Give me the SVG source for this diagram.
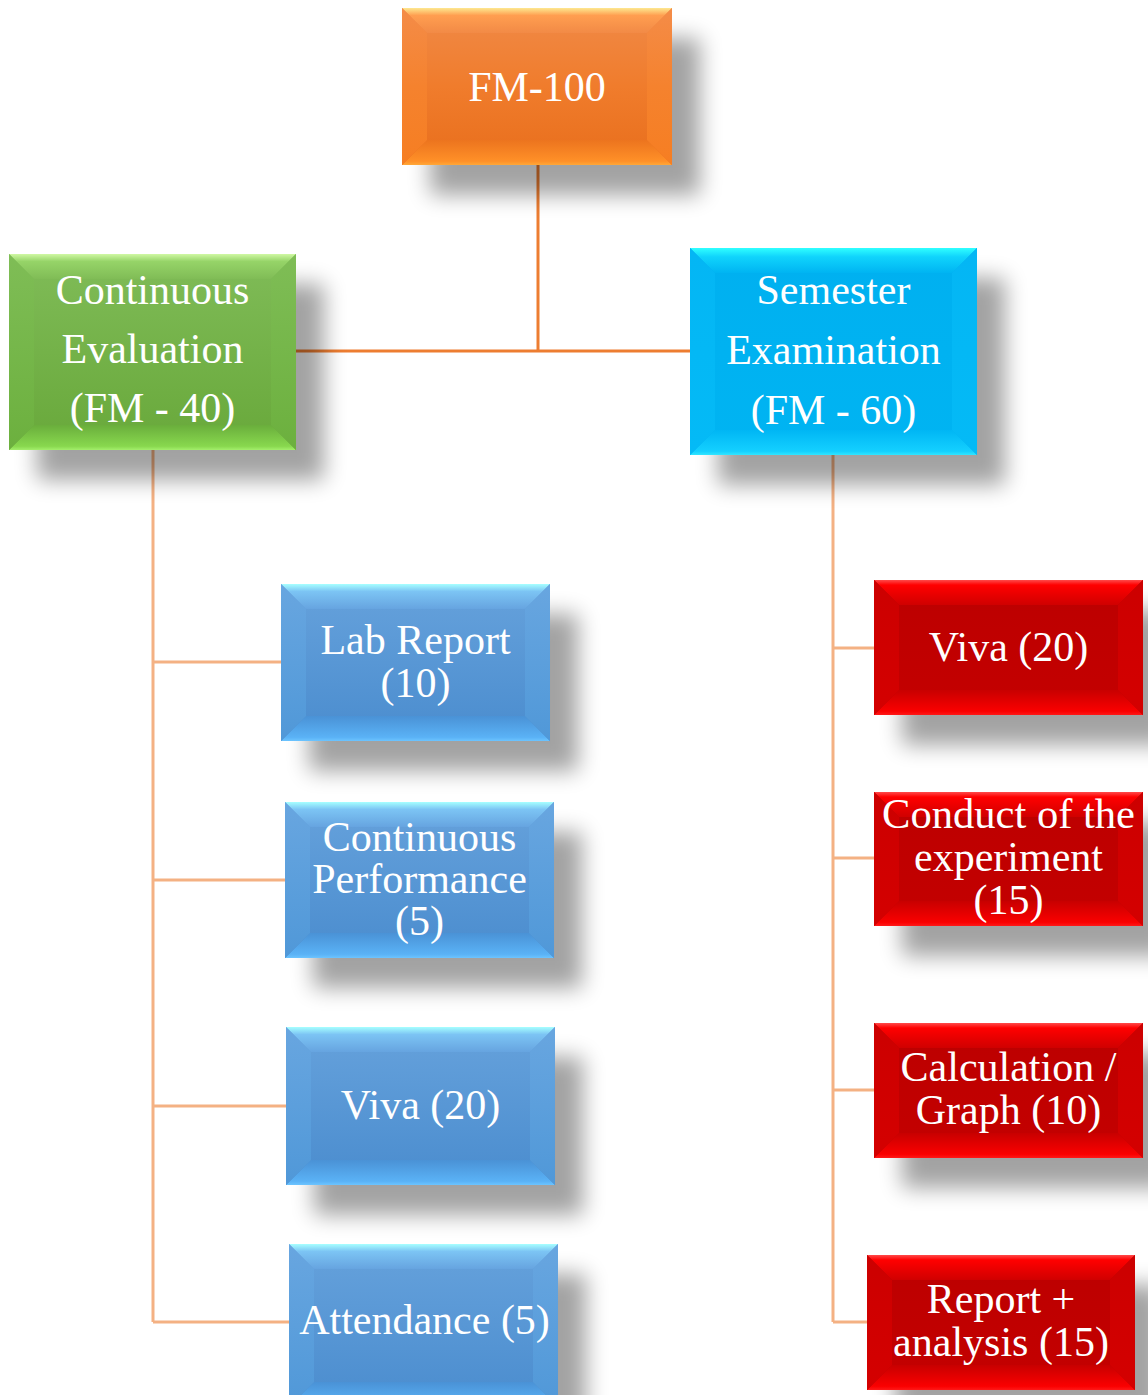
<svg xmlns="http://www.w3.org/2000/svg" width="1148" height="1395" viewBox="0 0 1148 1395">
<style>
  .t { font-family: "Liberation Serif", "Times New Roman", serif; font-size: 42px; fill: #ffffff; text-anchor: middle; }
  .c1 { stroke: #ed7d31; stroke-width: 3; fill: none; }
  .c2 { stroke: #f4b183; stroke-width: 3; fill: none; }
  .sh { fill: #000; opacity: 0.36; filter: url(#blur); }
  .o-face { fill: url(#oFace); } .o-top { fill: url(#oTop); } .o-bot { fill: url(#oBot); } .o-side { fill: url(#oSide); }
  .g-face { fill: url(#gFace); } .g-top { fill: url(#gTop); } .g-bot { fill: url(#gBot); } .g-side { fill: url(#gSide); }
  .c-face { fill: url(#cFace); } .c-top { fill: url(#cTop); } .c-bot { fill: url(#cBot); } .c-side { fill: url(#cSide); }
  .b-face { fill: url(#bFace); } .b-top { fill: url(#bTop); } .b-bot { fill: url(#bBot); } .b-side { fill: url(#bSide); }
  .r-face { fill: url(#rFace); } .r-top { fill: url(#rTop); } .r-bot { fill: url(#rBot); } .r-side { fill: url(#rSide); }
</style>
<defs>
  <filter id="blur" x="-30%" y="-30%" width="160%" height="160%"><feGaussianBlur stdDeviation="11"/></filter>
  <linearGradient id="oFace" x1="0" y1="0" x2="0" y2="1"><stop offset="0" stop-color="#f08a48"/><stop offset="0.5" stop-color="#f07c2c"/><stop offset="1" stop-color="#e86e1c"/></linearGradient>
  <linearGradient id="oTop" x1="0" y1="0" x2="0" y2="1"><stop offset="0" stop-color="#fde890"/><stop offset="0.3" stop-color="#ff9e50"/><stop offset="1" stop-color="#f28a46"/></linearGradient>
  <linearGradient id="oBot" x1="0" y1="0" x2="0" y2="1"><stop offset="0" stop-color="#ec741e"/><stop offset="0.85" stop-color="#ff9028"/><stop offset="1" stop-color="#ffa838"/></linearGradient>
  <linearGradient id="oSide" x1="0" y1="0" x2="0" y2="1"><stop offset="0" stop-color="#f48c48"/><stop offset="0.5" stop-color="#f5822e"/><stop offset="1" stop-color="#f67e22"/></linearGradient>

  <linearGradient id="gFace" x1="0" y1="0" x2="0" y2="1"><stop offset="0" stop-color="#80bc58"/><stop offset="1" stop-color="#68a83a"/></linearGradient>
  <linearGradient id="gTop" x1="0" y1="0" x2="0" y2="1"><stop offset="0" stop-color="#d0f8a4"/><stop offset="0.3" stop-color="#96d468"/><stop offset="1" stop-color="#80bc56"/></linearGradient>
  <linearGradient id="gBot" x1="0" y1="0" x2="0" y2="1"><stop offset="0" stop-color="#6aae3c"/><stop offset="0.85" stop-color="#88d84e"/><stop offset="1" stop-color="#a4ee6c"/></linearGradient>
  <linearGradient id="gSide" x1="0" y1="0" x2="0" y2="1"><stop offset="0" stop-color="#7fbd56"/><stop offset="1" stop-color="#6cb03e"/></linearGradient>

  <linearGradient id="cFace" x1="0" y1="0" x2="0" y2="1"><stop offset="0" stop-color="#00b0f0"/><stop offset="1" stop-color="#00b4f2"/></linearGradient>
  <linearGradient id="cTop" x1="0" y1="0" x2="0" y2="1"><stop offset="0" stop-color="#30ffff"/><stop offset="0.35" stop-color="#10d4fc"/><stop offset="1" stop-color="#00b4f2"/></linearGradient>
  <linearGradient id="cBot" x1="0" y1="0" x2="0" y2="1"><stop offset="0" stop-color="#00b6f4"/><stop offset="0.85" stop-color="#14d0ff"/><stop offset="1" stop-color="#30e6ff"/></linearGradient>
  <linearGradient id="cSide" x1="0" y1="0" x2="0" y2="1"><stop offset="0" stop-color="#04b6f4"/><stop offset="1" stop-color="#04baf6"/></linearGradient>

  <linearGradient id="bFace" x1="0" y1="0" x2="0" y2="1"><stop offset="0" stop-color="#66a2dc"/><stop offset="1" stop-color="#4a8cce"/></linearGradient>
  <linearGradient id="bTop" x1="0" y1="0" x2="0" y2="1"><stop offset="0" stop-color="#a6ffff"/><stop offset="0.3" stop-color="#7cc4f4"/><stop offset="1" stop-color="#66a4e0"/></linearGradient>
  <linearGradient id="bBot" x1="0" y1="0" x2="0" y2="1"><stop offset="0" stop-color="#4a92d6"/><stop offset="0.85" stop-color="#5ab2f6"/><stop offset="1" stop-color="#6cc4ff"/></linearGradient>
  <linearGradient id="bSide" x1="0" y1="0" x2="0" y2="1"><stop offset="0" stop-color="#68a6e0"/><stop offset="1" stop-color="#5098d8"/></linearGradient>

  <linearGradient id="rFace" x1="0" y1="0" x2="0" y2="1"><stop offset="0" stop-color="#bc0000"/><stop offset="1" stop-color="#c40000"/></linearGradient>
  <linearGradient id="rTop" x1="0" y1="0" x2="0" y2="1"><stop offset="0" stop-color="#ff4a4a"/><stop offset="0.2" stop-color="#ff0000"/><stop offset="1" stop-color="#d00000"/></linearGradient>
  <linearGradient id="rBot" x1="0" y1="0" x2="0" y2="1"><stop offset="0" stop-color="#c80000"/><stop offset="0.85" stop-color="#fa0000"/><stop offset="1" stop-color="#ff1818"/></linearGradient>
  <linearGradient id="rSide" x1="0" y1="0" x2="0" y2="1"><stop offset="0" stop-color="#cc0000"/><stop offset="1" stop-color="#d40000"/></linearGradient>
</defs>

<rect width="1148" height="1395" fill="#ffffff"/>

<g id="connectors">
  <path class="c1" d="M538 165 V351"/>
  <path class="c1" d="M296 351 H690"/>
  <path class="c2" d="M153 450 V1322"/>
  <path class="c2" d="M153 662 H281"/>
  <path class="c2" d="M153 880 H285"/>
  <path class="c2" d="M153 1106 H286"/>
  <path class="c2" d="M153 1322 H289"/>
  <path class="c2" d="M833 455 V1322"/>
  <path class="c2" d="M833 648 H874"/>
  <path class="c2" d="M833 858 H874"/>
  <path class="c2" d="M833 1090 H874"/>
  <path class="c2" d="M833 1322 H867"/>
</g>

<g id="fm100">
  <g transform="translate(402,8)">
    <rect class="sh" x="28" y="30" width="270" height="157"/>
    <rect class="o-face" width="270" height="157"/>
    <polygon class="o-top" points="0,0 270,0 245,25 25,25"/>
    <polygon class="o-bot" points="0,157 270,157 245,132 25,132"/>
    <polygon class="o-side" points="0,0 25,25 25,132 0,157"/>
    <polygon class="o-side" points="270,0 245,25 245,132 270,157"/>
  </g>
  <text class="t" x="537" y="101">FM-100</text>
</g>

<g id="continuous-evaluation">
  <g transform="translate(9,254)">
    <rect class="sh" x="28" y="30" width="287" height="196"/>
    <rect class="g-face" width="287" height="196"/>
    <polygon class="g-top" points="0,0 287,0 262,25 25,25"/>
    <polygon class="g-bot" points="0,196 287,196 262,171 25,171"/>
    <polygon class="g-side" points="0,0 25,25 25,171 0,196"/>
    <polygon class="g-side" points="287,0 262,25 262,171 287,196"/>
  </g>
  <text class="t" x="152.5" y="304">Continuous</text>
  <text class="t" x="152.5" y="363">Evaluation</text>
  <text class="t" x="152.5" y="422">(FM - 40)</text>
</g>

<g id="semester-examination">
  <g transform="translate(690,248)">
    <rect class="sh" x="28" y="30" width="287" height="207"/>
    <rect class="c-face" width="287" height="207"/>
    <polygon class="c-top" points="0,0 287,0 262,25 25,25"/>
    <polygon class="c-bot" points="0,207 287,207 262,182 25,182"/>
    <polygon class="c-side" points="0,0 25,25 25,182 0,207"/>
    <polygon class="c-side" points="287,0 262,25 262,182 287,207"/>
  </g>
  <text class="t" x="833.5" y="304">Semester</text>
  <text class="t" x="833.5" y="364">Examination</text>
  <text class="t" x="833.5" y="424">(FM - 60)</text>
</g>

<g id="lab-report">
  <g transform="translate(281,584)">
    <rect class="sh" x="28" y="30" width="269" height="157"/>
    <rect class="b-face" width="269" height="157"/>
    <polygon class="b-top" points="0,0 269,0 244,25 25,25"/>
    <polygon class="b-bot" points="0,157 269,157 244,132 25,132"/>
    <polygon class="b-side" points="0,0 25,25 25,132 0,157"/>
    <polygon class="b-side" points="269,0 244,25 244,132 269,157"/>
  </g>
  <text class="t" x="415.5" y="654">Lab Report</text>
  <text class="t" x="415.5" y="697">(10)</text>
</g>

<g id="continuous-performance">
  <g transform="translate(285,802)">
    <rect class="sh" x="28" y="30" width="269" height="156"/>
    <rect class="b-face" width="269" height="156"/>
    <polygon class="b-top" points="0,0 269,0 244,25 25,25"/>
    <polygon class="b-bot" points="0,156 269,156 244,131 25,131"/>
    <polygon class="b-side" points="0,0 25,25 25,131 0,156"/>
    <polygon class="b-side" points="269,0 244,25 244,131 269,156"/>
  </g>
  <text class="t" x="419.5" y="851">Continuous</text>
  <text class="t" x="419.5" y="893">Performance</text>
  <text class="t" x="419.5" y="935">(5)</text>
</g>

<g id="viva-ce">
  <g transform="translate(286,1027)">
    <rect class="sh" x="28" y="30" width="269" height="158"/>
    <rect class="b-face" width="269" height="158"/>
    <polygon class="b-top" points="0,0 269,0 244,25 25,25"/>
    <polygon class="b-bot" points="0,158 269,158 244,133 25,133"/>
    <polygon class="b-side" points="0,0 25,25 25,133 0,158"/>
    <polygon class="b-side" points="269,0 244,25 244,133 269,158"/>
  </g>
  <text class="t" x="420.5" y="1119">Viva (20)</text>
</g>

<g id="attendance">
  <g transform="translate(289,1244)">
    <rect class="sh" x="28" y="30" width="269" height="163"/>
    <rect class="b-face" width="269" height="163"/>
    <polygon class="b-top" points="0,0 269,0 244,25 25,25"/>
    <polygon class="b-bot" points="0,163 269,163 244,138 25,138"/>
    <polygon class="b-side" points="0,0 25,25 25,138 0,163"/>
    <polygon class="b-side" points="269,0 244,25 244,138 269,163"/>
  </g>
  <text class="t" x="424.5" y="1334">Attendance (5)</text>
</g>

<g id="viva-se">
  <g transform="translate(874,580)">
    <rect class="sh" x="28" y="30" width="269" height="135"/>
    <rect class="r-face" width="269" height="135"/>
    <polygon class="r-top" points="0,0 269,0 244,25 25,25"/>
    <polygon class="r-bot" points="0,135 269,135 244,110 25,110"/>
    <polygon class="r-side" points="0,0 25,25 25,110 0,135"/>
    <polygon class="r-side" points="269,0 244,25 244,110 269,135"/>
  </g>
  <text class="t" x="1008.5" y="661">Viva (20)</text>
</g>

<g id="conduct">
  <g transform="translate(874,792)">
    <rect class="sh" x="28" y="30" width="269" height="134"/>
    <rect class="r-face" width="269" height="134"/>
    <polygon class="r-top" points="0,0 269,0 244,25 25,25"/>
    <polygon class="r-bot" points="0,134 269,134 244,109 25,109"/>
    <polygon class="r-side" points="0,0 25,25 25,109 0,134"/>
    <polygon class="r-side" points="269,0 244,25 244,109 269,134"/>
  </g>
  <text class="t" x="1008.5" y="828" textLength="253" lengthAdjust="spacingAndGlyphs">Conduct of the</text>
  <text class="t" x="1008.5" y="871">experiment</text>
  <text class="t" x="1008.5" y="914">(15)</text>
</g>

<g id="calculation">
  <g transform="translate(874,1023)">
    <rect class="sh" x="28" y="30" width="269" height="135"/>
    <rect class="r-face" width="269" height="135"/>
    <polygon class="r-top" points="0,0 269,0 244,25 25,25"/>
    <polygon class="r-bot" points="0,135 269,135 244,110 25,110"/>
    <polygon class="r-side" points="0,0 25,25 25,110 0,135"/>
    <polygon class="r-side" points="269,0 244,25 244,110 269,135"/>
  </g>
  <text class="t" x="1008.5" y="1081">Calculation /</text>
  <text class="t" x="1008.5" y="1124">Graph (10)</text>
</g>

<g id="report-analysis">
  <g transform="translate(867,1255)">
    <rect class="sh" x="28" y="30" width="268" height="135"/>
    <rect class="r-face" width="268" height="135"/>
    <polygon class="r-top" points="0,0 268,0 243,25 25,25"/>
    <polygon class="r-bot" points="0,135 268,135 243,110 25,110"/>
    <polygon class="r-side" points="0,0 25,25 25,110 0,135"/>
    <polygon class="r-side" points="268,0 243,25 243,110 268,135"/>
  </g>
  <text class="t" x="1001" y="1313">Report +</text>
  <text class="t" x="1001" y="1356">analysis (15)</text>
</g>
</svg>
